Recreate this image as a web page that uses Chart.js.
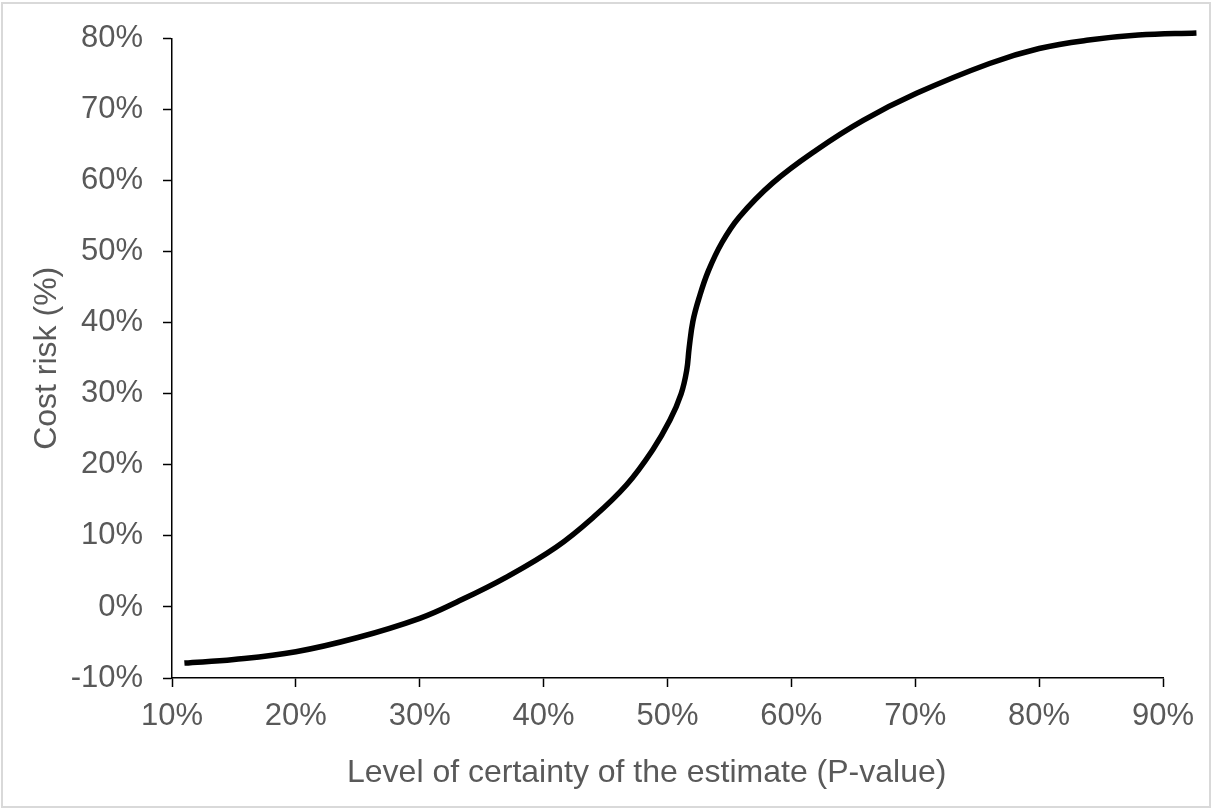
<!DOCTYPE html>
<html>
<head>
<meta charset="utf-8">
<title>Cost risk vs P-value</title>
<script src="https://cdn.jsdelivr.net/npm/chart.js@4/dist/chart.umd.min.js"></script>
<style>
    html, body { margin: 0; padding: 0; background: #fff; }
    #wrap { position: relative; width: 1212px; height: 809px; }
    #frame {
        position: absolute; left: 1px; top: 2px; right: 1px; bottom: 1px;
        border: 2px solid #d9d9d9; pointer-events: none;
    }
</style>
</head>
<body>
<div id="wrap">
    <canvas id="riskChart" width="1212" height="809"></canvas>
    <div id="frame"></div>
</div>
<script>
// Values (both in %)
const pValues = [11.0, 15.0, 20.0, 25.0, 30.0, 33.0, 37.0, 41.0, 44.0, 46.7, 48.8, 50.2, 51.1, 51.55, 51.75, 52.05, 52.55, 53.3, 54.4, 55.8, 58.5, 62.0, 65.8, 70.1, 76.0, 80.0, 84.0, 88.0, 92.7];
const costRisk = [-7.9, -7.4, -6.3, -4.3, -1.6, 0.7, 4.2, 8.4, 12.6, 17.2, 22.1, 26.3, 30.0, 33.3, 36.5, 40.2, 43.5, 47.3, 51.3, 54.9, 59.7, 64.3, 68.5, 72.3, 76.5, 78.6, 79.8, 80.5, 80.8];

const xTicks = [10, 20, 30, 40, 50, 60, 70, 80, 90];
const yTicks = [-10, 0, 10, 20, 30, 40, 50, 60, 70, 80];

const xTitle = 'Level of certainty of the estimate (P-value)';
const yTitle = 'Cost risk (%)';

const FONT = '"Liberation Sans", Arial, sans-serif';
const TEXT_GREY = '#595959';

// x title is drawn by hand so it can sit a bit left of the plot centre, like the original
const xTitlePlugin = {
    id: 'xTitle',
    afterDraw(chart) {
        const ctx = chart.ctx;
        const area = chart.chartArea;
        ctx.save();
        ctx.font = '32px ' + FONT;
        ctx.fillStyle = TEXT_GREY;
        ctx.textAlign = 'center';
        ctx.textBaseline = 'alphabetic';
        ctx.fillText(xTitle, area.left + (area.right - area.left) * 0.479, area.bottom + 104);
        ctx.restore();
    }
};

function axisGrid() {
    return {
        display: true,
        drawOnChartArea: false,
        drawTicks: true,
        tickLength: 9,
        tickColor: '#000',
        tickWidth: 1.5
    };
}

document.addEventListener('DOMContentLoaded', function() {
    const ctx = document.getElementById('riskChart').getContext('2d');

    new Chart(ctx, {
        type: 'line',
        data: {
            datasets: [{
                label: yTitle,
                data: pValues.map((p, i) => ({ x: p, y: costRisk[i] })),
                borderColor: '#000',
                borderWidth: 5.5,
                pointRadius: 0,
                fill: false,
                tension: 0.4,
                clip: false
            }]
        },
        options: {
            responsive: false,
            animation: false,
            devicePixelRatio: 1,
            layout: { padding: { top: 36, right: 49, bottom: 0, left: 0 } },
            plugins: {
                legend: { display: false },
                tooltip: { enabled: false }
            },
            scales: {
                x: {
                    type: 'linear',
                    min: xTicks[0],
                    max: xTicks[xTicks.length - 1],
                    afterBuildTicks: (scale) => { scale.ticks = xTicks.map(v => ({ value: v })); },
                    afterFit: (scale) => { scale.height = 131; },
                    grid: axisGrid(),
                    border: { display: true, color: '#000', width: 1.5 },
                    ticks: {
                        padding: 11,
                        color: TEXT_GREY,
                        font: { family: FONT, size: 31 },
                        maxRotation: 0,
                        callback: (v) => v + '%'
                    }
                },
                y: {
                    type: 'linear',
                    min: yTicks[0],
                    max: yTicks[yTicks.length - 1],
                    afterBuildTicks: (scale) => { scale.ticks = yTicks.map(v => ({ value: v })); },
                    afterFit: (scale) => { scale.width = 172; },
                    grid: axisGrid(),
                    border: { display: true, color: '#000', width: 1.5 },
                    ticks: {
                        padding: 20,
                        color: TEXT_GREY,
                        font: { family: FONT, size: 31 },
                        callback: (v) => v + '%'
                    },
                    title: {
                        display: true,
                        text: yTitle,
                        color: TEXT_GREY,
                        font: { family: FONT, size: 32 },
                        padding: { top: 28, bottom: 0 }
                    }
                }
            }
        },
        plugins: [xTitlePlugin]
    });
});
</script>
</body>
</html>
